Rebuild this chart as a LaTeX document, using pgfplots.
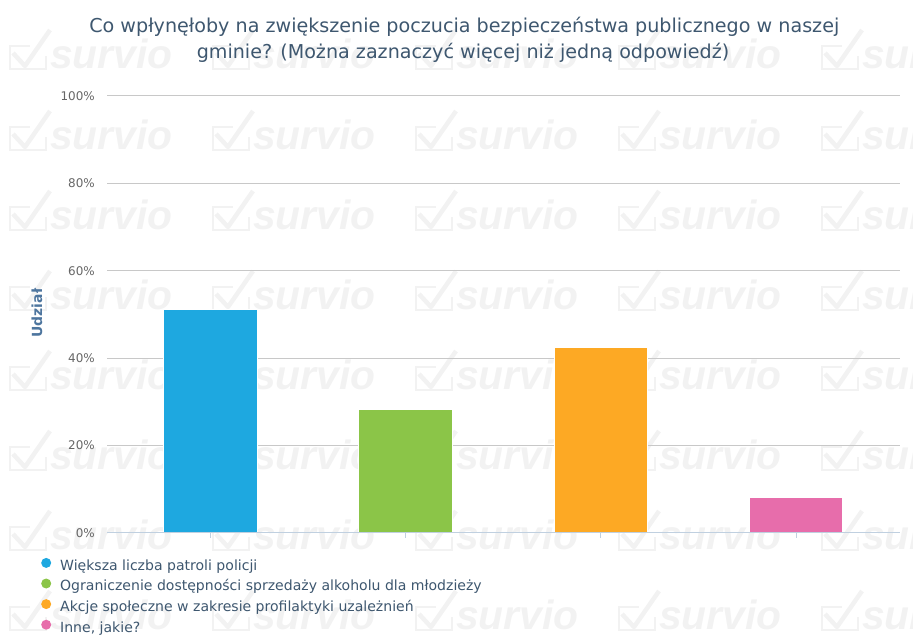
\documentclass[border=0pt]{standalone}
\usepackage{fontspec}
\setmainfont{DejaVu Sans}
\newfontfamily\wmfont{Liberation Sans}
\usepackage{pgfplots}
\pgfplotsset{compat=1.18}
\definecolor{blueC}{HTML}{1EA8E0}
\definecolor{greenC}{HTML}{8BC548}
\definecolor{orangeC}{HTML}{FDA924}
\definecolor{pinkC}{HTML}{E76DAB}
\definecolor{gridC}{HTML}{C8C8C8}
\definecolor{axisC}{HTML}{C0D0E0}
\definecolor{tickC}{HTML}{666666}
\definecolor{ylabC}{HTML}{4D759E}
\definecolor{titleC}{HTML}{3E576F}
\definecolor{wmC}{HTML}{F2F2F2}
\begin{document}
\begin{tikzpicture}
\begin{scope}[x=1bp,y=1bp]
\useasboundingbox (0,0) rectangle (913,632);
% background watermark
\foreach \cx in {50,253,456,659,862}{
  \foreach \cy in {59,140,220,300,380,460,540,620}{
    \node[anchor=base west, inner sep=0pt, text=wmC, font=\wmfont\bfseries\itshape\fontsize{41}{41}\selectfont] at (\cx,{632-\cy-10}) {survio};
    \draw[wmC, line width=2bp] ({\cx-20},{632-\cy+13}) -- ({\cx-40},{632-\cy+13}) -- ({\cx-40},{632-\cy-10}) -- ({\cx-4},{632-\cy-10}) -- ({\cx-4},{632-\cy+3});
    \draw[wmC, line width=4.5bp, line join=round] ({\cx-37},{632-\cy+6}) -- ({\cx-25},{632-\cy-7}) -- ({\cx},{632-\cy+29});
  }
}
% title
\node[anchor=base, inner sep=0pt, text=titleC, font=\fontsize{19.2}{22}\selectfont] at (464.3,{632-32.3}) {Co wpłynęłoby na zwiększenie poczucia bezpieczeństwa publicznego w naszej};
\node[anchor=base, inner sep=0pt, text=titleC, font=\fontsize{19.2}{22}\selectfont] at (463,{632-58.3}) {gminie? (Można zaznaczyć więcej niż jedną odpowiedź)};
\end{scope}
\begin{axis}[
  at={(107bp,99bp)}, anchor=south west, scale only axis,
  width=793bp, height=437bp,
  xmin=-0.530, xmax=3.532, ymin=0, ymax=100,
  xtick={0,1,2,3}, xticklabels={}, xtick pos=bottom,
  tick align=outside, major tick length=5bp,
  x tick style={draw=axisC, line width=1bp},
  ytick={0,20,40,60,80,100}, ytick style={draw=none},
  yticklabel={\pgfmathprintnumber{\tick}\%},
  /pgf/number format/assume math mode=true,
  yticklabel style={text=tickC, font=\fontsize{12}{12}\selectfont, inner sep=0pt, xshift=-7bp},
  ymajorgrids, grid style={draw=gridC, line width=1bp},
  axis line style={draw=none},
  ylabel={Udział},
  ylabel style={at={(axis description cs:-0.0883,0.503)}, anchor=center, text=ylabC, font=\bfseries\fontsize{14}{14}\selectfont},
  ybar, bar width=93.5bp, bar shift=0pt,
  legend style={at={(axis description cs:-0.087,-0.052)}, anchor=north west, draw=none, fill=none,
    font=\fontsize{14.1}{14.1}\selectfont, text=titleC, row sep=4.8bp,
    /tikz/every odd column/.append style={column sep=9bp},
    nodes={inner sep=0pt, text height=10.5bp, text depth=3.5bp}},
  legend cell align=left,
  legend image code/.code={\fill[#1, draw=none] (5bp,3.8bp) circle (5bp);},
]
\addplot[fill=blueC, draw=white, line width=1bp] coordinates {(0,51.1)};
\addlegendentry{Większa liczba patroli policji}
\addplot[fill=greenC, draw=white, line width=1bp] coordinates {(1,28.3)};
\addlegendentry{Ograniczenie dostępności sprzedaży alkoholu dla młodzieży}
\addplot[fill=orangeC, draw=white, line width=1bp] coordinates {(2,42.5)};
\addlegendentry{Akcje społeczne w zakresie profilaktyki uzależnień}
\addplot[fill=pinkC, draw=white, line width=1bp] coordinates {(3,8.2)};
\addlegendentry{Inne, jakie?}
\draw[axisC, line width=1bp] (rel axis cs:0,0) -- (rel axis cs:1,0);
\end{axis}
\end{tikzpicture}
\end{document}
